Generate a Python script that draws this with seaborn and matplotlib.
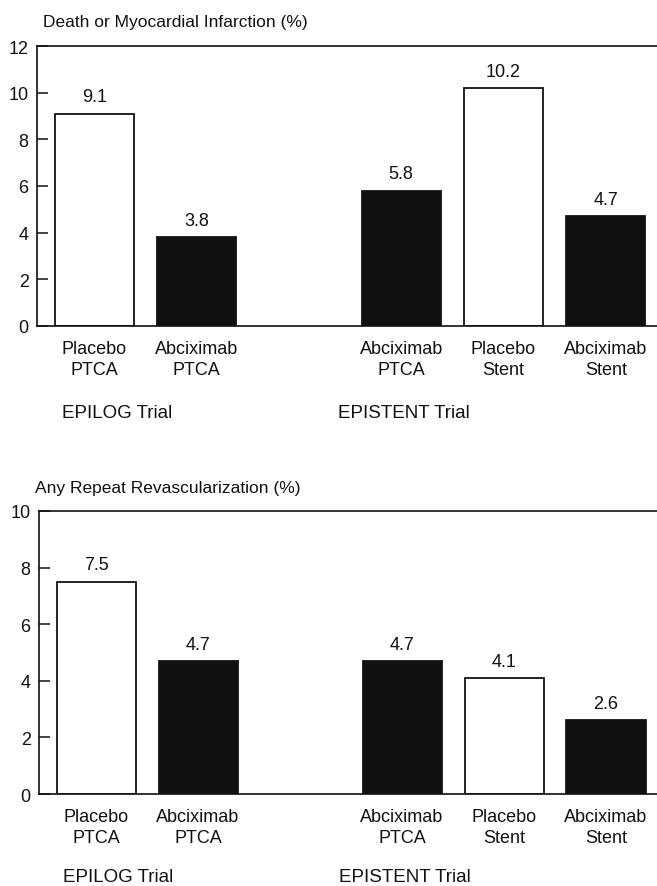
import matplotlib
matplotlib.use("Agg")
import matplotlib.pyplot as plt
import matplotlib.transforms as mtransforms
import seaborn as sns
import pandas as pd

# ---- data ----
arms = ["Placebo\nPTCA", "Abciximab\nPTCA", "Abciximab\nPTCA", "Placebo\nStent", "Abciximab\nStent"]
treatment = ["Placebo", "Abciximab", "Abciximab", "Placebo", "Abciximab"]
death_mi = [9.1, 3.8, 5.8, 10.2, 4.7]
repeat_revasc = [7.5, 4.7, 4.7, 4.1, 2.6]
trials = ["EPILOG Trial", "EPISTENT Trial"]
titles = ["Death or Myocardial Infarction (%)", "Any Repeat Revascularization (%)"]

# ---- layout ----
slots = [0, 1, 3, 4, 5]          # bar slots (gap between trials)
trial_x = [0.22, 3.03]           # label centres in data units

sns.set_style("ticks")
plt.rcParams["font.family"] = ["Liberation Sans", "DejaVu Sans"]

W, H = 657, 887
fig = plt.figure(figsize=(W / 100, H / 100), dpi=100)

panels = [
    dict(vals=death_mi, box=(37, 47, 327), ymax=12, title=titles[0], tx=43, ty=22, trial_y=413),
    dict(vals=repeat_revasc, box=(39, 512, 795), ymax=10, title=titles[1], tx=35, ty=489, trial_y=878),
]

palette = {"Placebo": "white", "Abciximab": "#111111"}

for p in panels:
    left, top, bottom = p["box"]
    ax = fig.add_axes([left / W, 1 - bottom / H, 1 - left / W, (bottom - top) / H])
    df = pd.DataFrame({"slot": slots, "value": p["vals"], "treatment": treatment})
    sns.barplot(data=df, x="slot", y="value", hue="treatment", palette=palette,
                native_scale=True, dodge=False, width=0.775, edgecolor="#111111",
                linewidth=1.3, legend=False, ax=ax)
    for c in ax.containers:
        ax.bar_label(c, fmt="%.1f", padding=6, fontsize=13, color="#111111")
    ax.set_xlim(-0.56, 5.5)
    ax.set_ylim(0, p["ymax"])
    ax.set_yticks(range(0, p["ymax"] + 1, 2))
    ax.set_xticks(slots)
    ax.set_xticklabels(arms, fontsize=13, color="#111111")
    for lbl in ax.get_xticklabels():
        lbl.set_linespacing(1.3)
    ax.tick_params(axis="x", length=0, pad=10)
    ax.tick_params(axis="y", direction="in", length=8, width=1.1, pad=6,
                   labelsize=13, labelcolor="#111111", color="#111111")
    ax.set_xlabel("")
    ax.set_ylabel("")
    for s in ["left", "top", "bottom"]:
        ax.spines[s].set_linewidth(1.2)
        ax.spines[s].set_color("#111111")
    ax.spines["right"].set_visible(False)

    tr = mtransforms.blended_transform_factory(ax.transData, fig.transFigure)
    for name, x in zip(trials, trial_x):
        ax.text(x, 1 - p["trial_y"] / H, name, transform=tr, ha="center", va="center",
                fontsize=13.5, color="#111111")
    fig.text(p["tx"] / W, 1 - p["ty"] / H, p["title"], ha="left", va="center",
             fontsize=12.5, color="#111111")

fig.savefig("out.png", dpi=100)
